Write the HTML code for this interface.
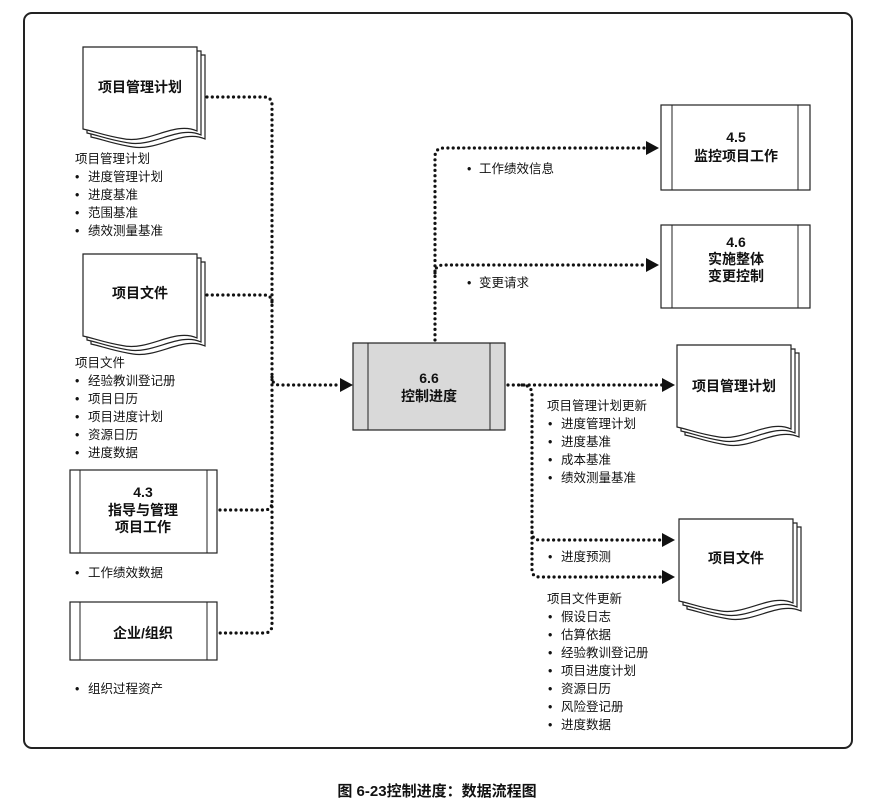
<!DOCTYPE html>
<html><head><meta charset="utf-8"><style>
body{margin:0;background:#fff}
text{font-family:"Liberation Sans","Noto Sans CJK SC",sans-serif;fill:#111}
.t{font-size:12.5px}
.b{font-size:14px;font-weight:bold;text-anchor:middle}
.d{fill:none;stroke:#111;stroke-width:3.2;stroke-dasharray:0 5.3;stroke-linecap:round}
.s{fill:#fff;stroke:#222;stroke-width:1.2}
</style></head><body>
<svg width="893" height="805" viewBox="0 0 893 805">
<defs>
<g id="doc">
<path class="s" d="M8,8 H122 V92 C100,82 75,104 50,100 C30,97 18,92 8,90 Z"/>
<path class="s" d="M4,4 H118 V88 C96,78 71,100 46,96 C26,93 14,88 4,86 Z"/>
<path class="s" d="M0,0 H114 V84 C92,74 67,96 42,92 C22,89 10,84 0,82 Z"/>
</g>
<g id="arr"><path d="M0,-7 L13,0 L0,7 Z" fill="#111"/></g>
</defs>
<rect x="24" y="13" width="828" height="735" rx="8" fill="none" stroke="#222" stroke-width="2"/>

<use href="#doc" x="83" y="47"/>
<text class="b" x="140" y="92">项目管理计划</text>
<text class="t" x="75" y="163">项目管理计划</text>
<text class="t" y="181"><tspan x="75">•</tspan><tspan x="88">进度管理计划</tspan></text>
<text class="t" y="199"><tspan x="75">•</tspan><tspan x="88">进度基准</tspan></text>
<text class="t" y="217"><tspan x="75">•</tspan><tspan x="88">范围基准</tspan></text>
<text class="t" y="235"><tspan x="75">•</tspan><tspan x="88">绩效测量基准</tspan></text>

<use href="#doc" x="83" y="254"/>
<text class="b" x="140" y="298">项目文件</text>
<text class="t" x="75" y="367">项目文件</text>
<text class="t" y="385"><tspan x="75">•</tspan><tspan x="88">经验教训登记册</tspan></text>
<text class="t" y="403"><tspan x="75">•</tspan><tspan x="88">项目日历</tspan></text>
<text class="t" y="421"><tspan x="75">•</tspan><tspan x="88">项目进度计划</tspan></text>
<text class="t" y="439"><tspan x="75">•</tspan><tspan x="88">资源日历</tspan></text>
<text class="t" y="457"><tspan x="75">•</tspan><tspan x="88">进度数据</tspan></text>

<rect class="s" x="70" y="470" width="147" height="83"/>
<line x1="80" y1="470" x2="80" y2="553" stroke="#222"/><line x1="207" y1="470" x2="207" y2="553" stroke="#222"/>
<text class="b" x="143" y="497">4.3</text>
<text class="b" x="143" y="515">指导与管理</text>
<text class="b" x="143" y="532">项目工作</text>
<text class="t" y="577"><tspan x="75">•</tspan><tspan x="88">工作绩效数据</tspan></text>

<rect class="s" x="70" y="602" width="147" height="58"/>
<line x1="80" y1="602" x2="80" y2="660" stroke="#222"/><line x1="207" y1="602" x2="207" y2="660" stroke="#222"/>
<text class="b" x="143" y="638">企业/组织</text>
<text class="t" y="693"><tspan x="75">•</tspan><tspan x="88">组织过程资产</tspan></text>

<path class="d" d="M207,97 H264 Q272,97 272,105 V625 Q272,633 264,633 H220"/>
<path class="d" d="M207,295 H264 Q272,295 272,303"/>
<path class="d" d="M220,510 H264 Q272,510 272,502"/>
<path class="d" d="M272,377 Q272,385 280,385 H340"/>
<use href="#arr" x="340" y="385"/>

<rect x="353" y="343" width="152" height="87" fill="#d9d9d9" stroke="#222" stroke-width="1.2"/>
<line x1="368" y1="343" x2="368" y2="430" stroke="#222"/><line x1="490" y1="343" x2="490" y2="430" stroke="#222"/>
<text class="b" x="429" y="383">6.6</text>
<text class="b" x="429" y="401">控制进度</text>

<path class="d" d="M435,340 V157 Q435,148 444,148 H646"/>
<use href="#arr" x="646" y="148"/>
<path class="d" d="M435,273 Q435,265 444,265 H646"/>
<use href="#arr" x="646" y="265"/>
<text class="t" y="173"><tspan x="467">•</tspan><tspan x="479">工作绩效信息</tspan></text>
<text class="t" y="287"><tspan x="467">•</tspan><tspan x="479">变更请求</tspan></text>

<rect class="s" x="661" y="105" width="149" height="85"/>
<line x1="672" y1="105" x2="672" y2="190" stroke="#222"/><line x1="798" y1="105" x2="798" y2="190" stroke="#222"/>
<text class="b" x="736" y="142">4.5</text>
<text class="b" x="736" y="161">监控项目工作</text>
<rect class="s" x="661" y="225" width="149" height="83"/>
<line x1="672" y1="225" x2="672" y2="308" stroke="#222"/><line x1="798" y1="225" x2="798" y2="308" stroke="#222"/>
<text class="b" x="736" y="247">4.6</text>
<text class="b" x="736" y="264">实施整体</text>
<text class="b" x="736" y="281">变更控制</text>

<path class="d" d="M508,385 H662"/>
<use href="#arr" x="662" y="385"/>
<path class="d" d="M522,385 Q532,385 532,395 V570 Q532,577 540,577 H662"/>
<path class="d" d="M532,532 Q532,540 540,540 H662"/>
<use href="#arr" x="662" y="540"/><use href="#arr" x="662" y="577"/>

<use href="#doc" x="677" y="345"/>
<text class="b" x="734" y="391">项目管理计划</text>
<use href="#doc" x="679" y="519"/>
<text class="b" x="736" y="563">项目文件</text>

<text class="t" x="547" y="410">项目管理计划更新</text>
<text class="t" y="428"><tspan x="548">•</tspan><tspan x="561">进度管理计划</tspan></text>
<text class="t" y="446"><tspan x="548">•</tspan><tspan x="561">进度基准</tspan></text>
<text class="t" y="464"><tspan x="548">•</tspan><tspan x="561">成本基准</tspan></text>
<text class="t" y="482"><tspan x="548">•</tspan><tspan x="561">绩效测量基准</tspan></text>
<text class="t" y="561"><tspan x="548">•</tspan><tspan x="561">进度预测</tspan></text>
<text class="t" x="547" y="603">项目文件更新</text>
<text class="t" y="621"><tspan x="548">•</tspan><tspan x="561">假设日志</tspan></text>
<text class="t" y="639"><tspan x="548">•</tspan><tspan x="561">估算依据</tspan></text>
<text class="t" y="657"><tspan x="548">•</tspan><tspan x="561">经验教训登记册</tspan></text>
<text class="t" y="675"><tspan x="548">•</tspan><tspan x="561">项目进度计划</tspan></text>
<text class="t" y="693"><tspan x="548">•</tspan><tspan x="561">资源日历</tspan></text>
<text class="t" y="711"><tspan x="548">•</tspan><tspan x="561">风险登记册</tspan></text>
<text class="t" y="729"><tspan x="548">•</tspan><tspan x="561">进度数据</tspan></text>

<text x="437" y="796" style="font-size:15px;font-weight:bold;text-anchor:middle">图 6-23控制进度：数据流程图</text>
</svg>
</body></html>
